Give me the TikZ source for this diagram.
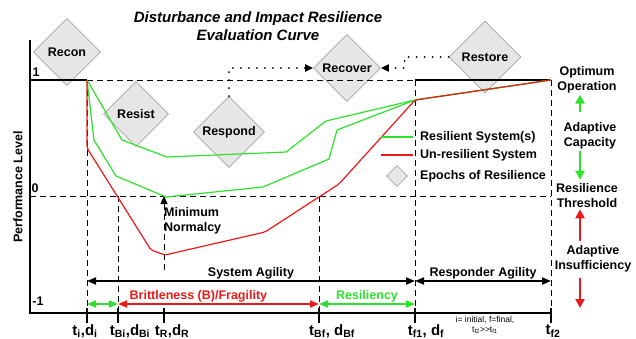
\documentclass[tikz,border=0pt]{standalone}
\usepackage{fontspec}
\setmainfont{Liberation Sans}
\usepackage{xcolor}
\usepackage{tikz}
\usetikzlibrary{shapes.geometric, positioning, arrows.meta}

\definecolor{resgreen}{RGB}{45,225,45}
\definecolor{unred}{RGB}{235,25,25}
\definecolor{epochfill}{RGB}{230,230,230}
\definecolor{epochedge}{RGB}{165,165,165}

\begin{document}
\begin{tikzpicture}[x=1pt, y=-1pt,
    epoch/.style={diamond, draw=epochedge, fill=epochfill, line width=0.8pt, minimum size=67pt, inner sep=0pt, font=\bfseries\fontsize{12.5}{14}\selectfont},
    lbl/.style={font=\bfseries\fontsize{12.5}{15}\selectfont, align=center, inner sep=1pt},
    tlbl/.style={font=\bfseries\fontsize{15}{17}\selectfont, inner sep=0pt},
    guide/.style={line width=0.9pt, dash pattern=on 6pt off 4pt},
    axis/.style={line width=2.5pt},
    curve/.style={line width=1.2pt, line join=round},
    agile/.style={line width=1.8pt, {Triangle[length=9pt,width=7pt]}-{Triangle[length=9pt,width=7pt]}},
    hop/.style={line width=2pt, line cap=round, dash pattern=on 0pt off 8pt, -{Triangle[length=8pt,width=7pt]}},
    shift arrow/.style={line width=2pt, -{Triangle[length=9pt,width=9pt]}},
]
    \useasboundingbox (0,0) rectangle (636,338);

    \coordinate (origin) at (30,313);
    \coordinate (one) at (0,80);
    \coordinate (zero) at (0,196);
    \coordinate (agility) at (0,281);
    \coordinate (epochs) at (0,304);
    \coordinate (rail) at (580,0);
    \coordinate (railend) at (580,308);
    \coordinate (normlow) at (164,270);
    \foreach \x/\n in {87/ti,118/tBi,164/tR,319/tBf,415/tf1,551/tf2}
        \coordinate (\n) at (\x,313);

    \node[font=\bfseries\itshape\fontsize{15}{18}\selectfont, align=center] (title) at (258,26) {Disturbance and Impact Resilience\\Evaluation Curve};

    \node[epoch] (recon) at (67,52) {Recon};
    \node[epoch, minimum size=65pt] (resist) at (136,114) {Resist};
    \node[epoch, minimum size=71pt] (respond) at (229,132) {Respond};
    \node[epoch] (recover) at (347,68) {Recover};
    \node[epoch, minimum size=72pt] (restore) at (485,57) {Restore};

    \draw[hop] (respond.north) |- (recover.west);
    \draw[hop] (restore.west) -- ++(-44,0) |- (recover.east);

    \draw[line width=1.2pt] (origin |- one) -- (ti |- one);
    \draw[guide] (ti |- one) -- (tf2 |- one);
    \draw[line width=1.2pt] (tf1 |- one) -- (tf2 |- one);
    \draw[guide] (origin |- zero) -- (tf2 |- zero);
    \foreach \n/\lev in {ti/one, tBi/zero, tBf/zero, tf1/one, tf2/one}
        \draw[guide] (\n |- \lev) -- (\n);
    \draw[guide, -{Triangle[length=8pt,width=7pt]}] (normlow) -- (tR |- zero);

    \draw[curve, resgreen] (87,80) -- (122,140) -- (167,157) -- (286,152) -- (326,121) -- (415,100) -- (551,80);
    \draw[curve, resgreen] (87,80) -- (94,140) -- (116,176) -- (166,197) -- (263,187) -- (329,159) -- (337,130) -- (415,100) -- (551,80);
    \draw[curve, unred, rounded corners=2pt] (87,80) -- (87,148) -- (151,250) -- (165,255) -- (265,232) -- (339,184) -- (415,100) -- (551,80);

    \draw[axis] (origin |- 0,40) -- (origin) -- (tf2);
    \foreach \n in {ti,tBi,tR,tBf,tf1,tf2}
        \draw[axis] ([yshift=5pt]\n) -- ([yshift=-10pt]\n);

    \foreach \x/\n/\lbltext in {85/ti/{t\textsubscript{i},d\textsubscript{i}},
                               130/tBi/{t\textsubscript{Bi},d\textsubscript{Bi}},
                               172/tR/{t\textsubscript{R},d\textsubscript{R}},
                               332/tBf/{t\textsubscript{Bf}, d\textsubscript{Bf}},
                               426/tf1/{t\textsubscript{f1}, d\textsubscript{f}},
                               553/tf2/{t\textsubscript{f2}}}
        \node[tlbl] (lab\n) at (\x,331) {\lbltext};

    \node[font=\fontsize{8.5}{10}\selectfont, align=center] (note) at (485,325) {i= initial, f=final,\\t\textsubscript{f2}>{}>t\textsubscript{f1}};

    \draw[agile] (ti |- agility) -- node[lbl, above] (sysag) {System Agility} (tf1 |- agility);
    \draw[agile] (tf1 |- agility) -- node[lbl, above] (respag) {Responder Agility} (tf2 |- agility);
    \draw[agile, resgreen] (ti |- epochs) -- (tBi |- epochs);
    \draw[agile, unred] (tBi |- epochs) -- node[lbl, above, pos=0.4, text=unred] (brittle) {Brittleness (B)/Fragility} (tBf |- epochs);
    \draw[agile, resgreen] (tBf |- epochs) -- node[lbl, above, text=resgreen] (resil) {Resiliency} (tf1 |- epochs);

    \node[lbl, rotate=90] (perf) at (18,187) {Performance Level};
    \node[lbl] (lv1) at (36,72) {1};
    \node[lbl] (lv0) at (35,188) {0};
    \node[lbl] (lvm) at (38,301) {-1};

    \node[lbl, anchor=north west, align=left] (normalcy) at (163,206) {Minimum\\Normalcy};

    \node[lbl, anchor=west] (legres) at (419,137) {Resilient System(s)};
    \node[lbl, anchor=west] (legun) at (419,155) {Un-resilient System};
    \node[lbl, anchor=west] (legepoch) at (419,176) {Epochs of Resilience};
    \draw[resgreen, line width=2pt] ([xshift=-6pt]legres.west) -- ++(-32,0);
    \draw[unred, line width=2pt] ([xshift=-6pt]legun.west) -- ++(-32,0);
    \node[epoch, minimum size=21pt] (legmark) at (397,176) {};

    \node[lbl] (optimum) at (587,80) {Optimum\\Operation};
    \node[lbl] (capacity) at (590,136) {Adaptive\\Capacity};
    \node[lbl] (threshold) at (587,196) {Resilience\\Threshold};
    \node[lbl] (insufficiency) at (593,259) {Adaptive\\Insufficiency};
    \draw[shift arrow, resgreen, shorten <=9pt] (capacity.north -| rail) -- (optimum.south -| rail);
    \draw[shift arrow, resgreen, shorten >=3pt] (capacity.south -| rail) -- (threshold.north -| rail);
    \draw[shift arrow, unred, shorten <=3pt] (insufficiency.north -| rail) -- (threshold.south -| rail);
    \draw[shift arrow, unred, shorten <=4pt] (insufficiency.south -| rail) -- (railend);
\end{tikzpicture}
\end{document}
